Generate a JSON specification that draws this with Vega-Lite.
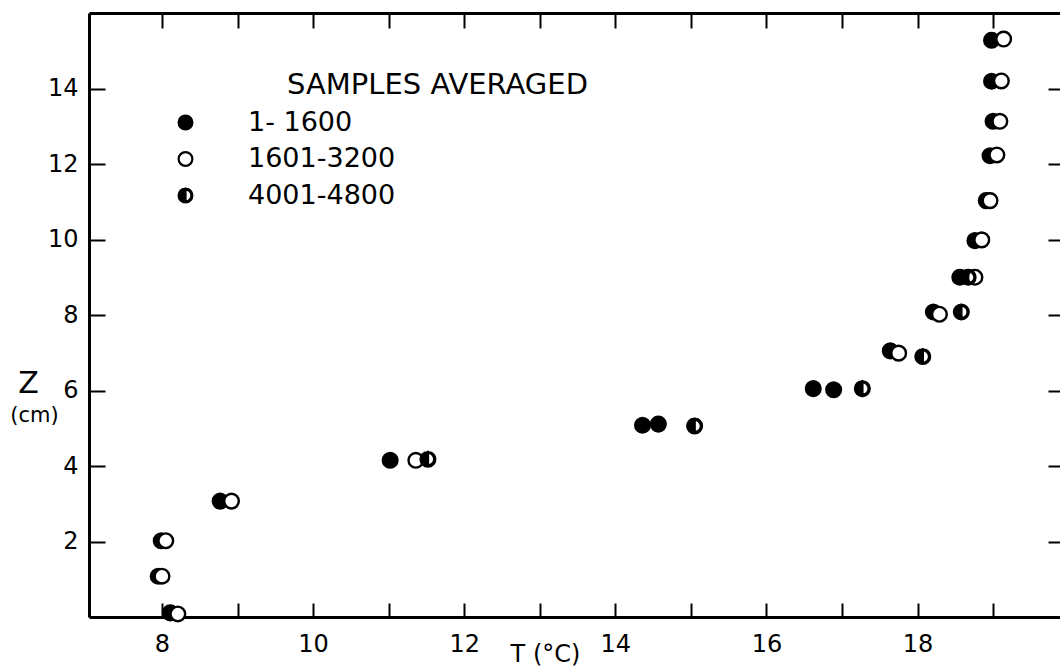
{
  "$schema": "https://vega.github.io/schema/vega-lite/v6.json",
  "width": 971,
  "height": 604,
  "autosize": {"type": "none"},
  "padding": {"left": 89, "top": 13, "right": 0, "bottom": 51},
  "background": "white",
  "config": {
    "view": {"stroke": null},
    "font": "DejaVu Sans",
    "axis": {"domainColor": "black", "tickColor": "black", "labelColor": "black", "titleColor": "black", "grid": false, "labelFont": "DejaVu Sans", "titleFont": "DejaVu Sans"},
    "legend": {"symbolStrokeWidth": 2.2, "symbolSize": 190}
  },
  "title": {
    "text": "SAMPLES AVERAGED",
    "anchor": "start",
    "frame": "group",
    "orient": "top",
    "offset": 0,
    "dx": 198,
    "dy": 102,
    "baseline": "middle",
    "font": "DejaVu Sans",
    "fontSize": 29,
    "fontWeight": "normal",
    "color": "black"
  },
  "data": {
    "values": [
      {"series": "1- 1600", "T": 8.11, "Z": 0.11},
      {"series": "1- 1600", "T": 7.95, "Z": 1.08},
      {"series": "1- 1600", "T": 7.99, "Z": 2.02},
      {"series": "1- 1600", "T": 8.77, "Z": 3.07},
      {"series": "1- 1600", "T": 11.02, "Z": 4.15},
      {"series": "1- 1600", "T": 14.36, "Z": 5.08},
      {"series": "1- 1600", "T": 14.57, "Z": 5.11},
      {"series": "1- 1600", "T": 16.62, "Z": 6.05},
      {"series": "1- 1600", "T": 16.89, "Z": 6.02},
      {"series": "1- 1600", "T": 17.64, "Z": 7.05},
      {"series": "1- 1600", "T": 18.21, "Z": 8.08},
      {"series": "1- 1600", "T": 18.56, "Z": 9.0},
      {"series": "1- 1600", "T": 18.76, "Z": 9.97},
      {"series": "1- 1600", "T": 18.91, "Z": 11.03},
      {"series": "1- 1600", "T": 18.96, "Z": 12.22},
      {"series": "1- 1600", "T": 19.0, "Z": 13.13},
      {"series": "1- 1600", "T": 18.98, "Z": 14.19},
      {"series": "1- 1600", "T": 18.98, "Z": 15.28},
      {"series": "1601-3200", "T": 8.21, "Z": 0.08},
      {"series": "1601-3200", "T": 8.0, "Z": 1.08},
      {"series": "1601-3200", "T": 8.05, "Z": 2.02},
      {"series": "1601-3200", "T": 8.92, "Z": 3.07},
      {"series": "1601-3200", "T": 11.36, "Z": 4.15},
      {"series": "1601-3200", "T": 17.75, "Z": 6.99},
      {"series": "1601-3200", "T": 18.29, "Z": 8.02},
      {"series": "1601-3200", "T": 18.76, "Z": 9.0},
      {"series": "1601-3200", "T": 18.85, "Z": 9.99},
      {"series": "1601-3200", "T": 18.96, "Z": 11.03},
      {"series": "1601-3200", "T": 19.05, "Z": 12.24},
      {"series": "1601-3200", "T": 19.09, "Z": 13.13},
      {"series": "1601-3200", "T": 19.11, "Z": 14.2},
      {"series": "1601-3200", "T": 19.14, "Z": 15.31},
      {"series": "4001-4800", "T": 11.52, "Z": 4.18},
      {"series": "4001-4800", "T": 15.05, "Z": 5.06},
      {"series": "4001-4800", "T": 17.27, "Z": 6.05},
      {"series": "4001-4800", "T": 18.07, "Z": 6.9},
      {"series": "4001-4800", "T": 18.58, "Z": 8.08},
      {"series": "4001-4800", "T": 18.67, "Z": 9.0}
    ]
  },
  "layer": [
    {
      "mark": {"type": "point", "filled": true, "stroke": "black", "strokeWidth": 2.4, "size": 215, "opacity": 1},
      "encoding": {
        "x": {
          "field": "T", "type": "quantitative",
          "scale": {"domain": [7.034, 19.886], "nice": false, "zero": false},
          "axis": {
            "orient": "bottom",
            "values": [8, 9, 10, 11, 12, 13, 14, 15, 16, 17, 18, 19],
            "labelExpr": "datum.value % 2 === 0 ? datum.label : ''",
            "tickSize": -14, "tickWidth": 2, "domainWidth": 3,
            "labelPadding": 29, "labelFontSize": 24,
            "title": "T (°C)", "titleFontSize": 24, "titleFontWeight": "normal",
            "titleX": 456, "titleY": 44, "titleAlign": "center", "titleBaseline": "alphabetic"
          }
        },
        "y": {
          "field": "Z", "type": "quantitative",
          "scale": {"domain": [0, 16], "nice": false, "zero": false},
          "axis": {
            "orient": "left",
            "values": [2, 4, 6, 8, 10, 12, 14],
            "tickSize": -16, "tickWidth": 2, "domainWidth": 3,
            "labelPadding": 27, "labelFontSize": 24,
            "title": "Z", "titleFontSize": 30, "titleFontWeight": "normal", "titleAngle": 0,
            "titleX": -61, "titleY": 370, "titleAlign": "center", "titleBaseline": "middle"
          }
        },
        "fill": {
          "field": "series", "type": "nominal",
          "scale": {"domain": ["1- 1600", "1601-3200", "4001-4800"], "range": ["black", "white", "black"]},
          "legend": {
            "orient": "none", "legendX": 83, "legendY": 96, "title": null, "padding": 0,
            "labelFont": "DejaVu Sans", "labelFontSize": 27, "labelColor": "black", "labelLimit": 400,
            "labelOffset": 49, "rowPadding": 8.5, "symbolSize": 190,
            "symbolStrokeColor": "black", "symbolStrokeWidth": 2.2
          }
        },
        "stroke": {
          "field": "series", "type": "nominal",
          "scale": {"domain": ["1- 1600", "1601-3200", "4001-4800"], "range": ["black", "black", "black"]},
          "legend": {
            "orient": "none", "legendX": 83, "legendY": 96, "title": null, "padding": 0,
            "labelFont": "DejaVu Sans", "labelFontSize": 27, "labelColor": "black", "labelLimit": 400,
            "labelOffset": 49, "rowPadding": 8.5, "symbolSize": 190,
            "symbolStrokeColor": "black", "symbolStrokeWidth": 2.2
          }
        },
        "shape": {
          "field": "series", "type": "nominal",
          "scale": {"domain": ["1- 1600", "1601-3200", "4001-4800"], "range": ["circle", "circle", "M0,-1A1,1,0,0,0,0,1Z M0,-1A1,1,0,0,1,0,1L0,0.86A0.86,0.86,0,0,0,0,-0.86Z"]},
          "legend": {
            "orient": "none", "legendX": 83, "legendY": 96, "title": null, "padding": 0,
            "labelFont": "DejaVu Sans", "labelFontSize": 27, "labelColor": "black", "labelLimit": 400,
            "labelOffset": 49, "rowPadding": 8.5, "symbolSize": 190,
            "symbolStrokeColor": "black", "symbolStrokeWidth": 2.2
          }
        }
      }
    },
    {
      "mark": {"type": "point", "opacity": 0},
      "encoding": {
        "x": {
          "field": "T", "type": "quantitative",
          "axis": {
            "orient": "top", "values": [8, 9, 10, 11, 12, 13, 14, 15, 16, 17, 18, 19],
            "labels": false, "tickSize": -15, "tickWidth": 2, "domainWidth": 3, "title": null
          }
        },
        "y": {
          "field": "Z", "type": "quantitative",
          "axis": {
            "orient": "right", "values": [2, 4, 6, 8, 10, 12, 14],
            "labels": false, "tickSize": -12, "tickWidth": 2, "domain": false,
            "title": "(cm)", "titleFontSize": 21, "titleFontWeight": "normal", "titleAngle": 0,
            "titleX": -1026, "titleY": 402, "titleAlign": "center", "titleBaseline": "middle"
          }
        }
      }
    }
  ],
  "resolve": {"axis": {"x": "independent", "y": "independent"}}
}
